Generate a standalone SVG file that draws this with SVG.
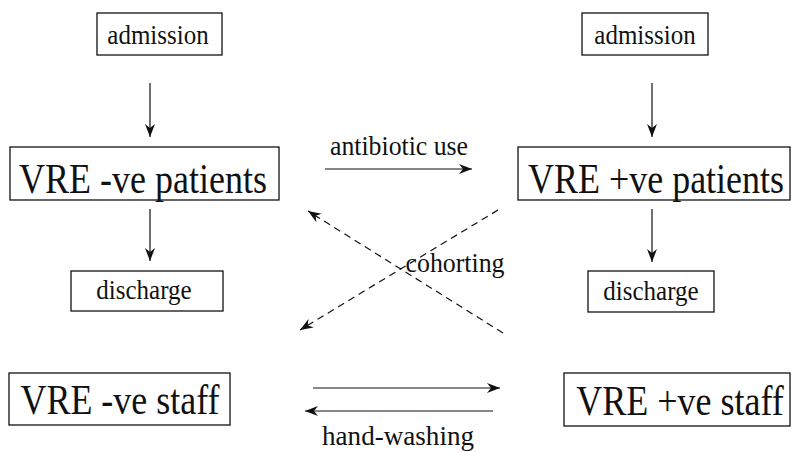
<svg xmlns="http://www.w3.org/2000/svg" width="793" height="452" viewBox="0 0 793 452">
<style>
.box{fill:#fff;stroke:#111;stroke-width:1.3}
.t{fill:#111;text-anchor:middle;font-family:"Liberation Serif","Times New Roman",serif}
.s{font-size:25px}
.b{font-size:36px}
.c{fill:none;stroke:#111;stroke-width:1.2}
.d{stroke-dasharray:7,5}
</style>
<defs>
<marker id="ah" markerUnits="userSpaceOnUse" markerWidth="16" markerHeight="12" viewBox="-14 -6 16 12" refX="0" refY="0" orient="auto">
<path d="M0,0 L-13,-5 L-9,0 L-13,5 Z" fill="#111"/>
</marker>
</defs>
<g id="admission-left"><rect class="box" x="97" y="13" width="125" height="42"/><text class="t s" transform="translate(158,44) scale(1,1.1)">admission</text></g>
<g id="vre-neg-patients"><rect class="box" x="10" y="147" width="269" height="53"/><text class="t b" transform="translate(143,193) scale(1,1.18)">VRE -ve patients</text></g>
<g id="discharge-left"><rect class="box" x="71" y="271" width="152" height="40"/><text class="t s" transform="translate(144,299) scale(1,1.1)">discharge</text></g>
<g id="vre-neg-staff"><rect class="box" x="9" y="373" width="221" height="52"/><text class="t b" transform="translate(120,414) scale(1,1.18)">VRE -ve staff</text></g>
<g id="admission-right"><rect class="box" x="582" y="13" width="126" height="42"/><text class="t s" transform="translate(645,44) scale(1,1.1)">admission</text></g>
<g id="vre-pos-patients"><rect class="box" x="518" y="147" width="272" height="53"/><text class="t b" transform="translate(656,193) scale(1,1.18)">VRE +ve patients</text></g>
<g id="discharge-right"><rect class="box" x="588" y="271" width="126" height="41"/><text class="t s" transform="translate(651,300) scale(1,1.1)">discharge</text></g>
<g id="vre-pos-staff"><rect class="box" x="564" y="373" width="226" height="53"/><text class="t b" transform="translate(680,415) scale(1,1.18)">VRE +ve staff</text></g>
<g id="connectors">
<line class="c" x1="150" y1="83" x2="150" y2="137" marker-end="url(#ah)"/>
<line class="c" x1="150" y1="209" x2="150" y2="261" marker-end="url(#ah)"/>
<line class="c" x1="652" y1="83" x2="652" y2="137" marker-end="url(#ah)"/>
<line class="c" x1="652" y1="209" x2="652" y2="262" marker-end="url(#ah)"/>
<line class="c" x1="325" y1="169" x2="472" y2="169" marker-end="url(#ah)"/>
<line class="c" x1="313" y1="388" x2="500" y2="388" marker-end="url(#ah)"/>
<line class="c" x1="493" y1="411" x2="305" y2="411" marker-end="url(#ah)"/>
<line class="c d" x1="498" y1="210" x2="300" y2="330" marker-end="url(#ah)"/>
<line class="c d" x1="503" y1="333" x2="308" y2="211" marker-end="url(#ah)"/>
<text class="t s" transform="translate(399,155) scale(1,1.1)" textLength="138" lengthAdjust="spacingAndGlyphs">antibiotic use</text>
<text class="t s" transform="translate(455,272) scale(1,1.1)" textLength="99" lengthAdjust="spacingAndGlyphs">cohorting</text>
<text class="t s" transform="translate(398,445) scale(1,1.1)" textLength="152" lengthAdjust="spacingAndGlyphs">hand-washing</text>
</g>
</svg>
